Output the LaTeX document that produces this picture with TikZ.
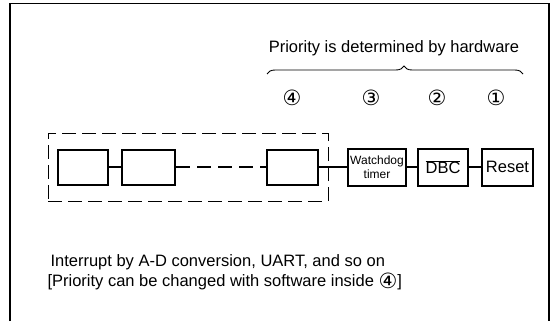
\documentclass[tikz,border=0pt]{standalone}
\usepackage{fontspec}
\setmainfont{Liberation Sans}
\newfontfamily\circfont{DejaVu Sans}
\usepackage{tikz}
\usetikzlibrary{positioning,fit,decorations.pathreplacing}

\newcommand{\prionum}[1]{{\circfont\fontsize{21}{21}\selectfont #1}}

\begin{document}
\begin{tikzpicture}[x=1pt, y=-1pt, node distance=11.5pt,
    unit/.style={rectangle, draw, line width=2pt, inner sep=0pt, minimum height=35pt},
    hwunit/.style={unit, minimum height=37pt},
    link/.style={line width=1.1pt},
    dashlink/.style={line width=1.1pt, dash pattern=on 14pt off 7pt},
    bigtext/.style={font=\fontsize{16.5}{20.5}\selectfont}]
    \useasboundingbox (0,0) rectangle (559,321);
    \draw [line width=1.4pt] (10,321) -- (10,3.5) -- (549,3.5) -- (549,321);

    % chain of interrupt sources
    \node [unit, minimum width=50pt] (src1) at (83,167) {};
    \node [unit, minimum width=53pt, right=12pt of src1] (src2) {};
    \node [unit, minimum width=51pt, right=90pt of src2] (srcn) {};
    \node [hwunit, minimum width=58pt, right=28pt of srcn, align=center,
           font=\fontsize{12}{13.5}\selectfont] (wdt) {Watchdog\\timer};
    \node [hwunit, minimum width=50pt, right=10pt of wdt, bigtext] (dbc) {$\overline{\mbox{DBC}}$};
    \node [hwunit, minimum width=51pt, right=12pt of dbc, bigtext] (reset) {Reset};

    \node [draw, line width=1pt, dash pattern=on 14pt off 6pt, fit=(src1)(srcn),
           inner xsep=9pt, inner ysep=15.5pt] (group) {};

    \draw [link] (src1) -- (src2);
    \draw [dashlink] (src2) -- (srcn);
    \draw [link] (srcn) -- (wdt);
    \draw [link] (wdt) -- (dbc);
    \draw [link] (dbc) -- (reset);

    % priority numbers
    \node (p4) at (292,98) {\prionum{④}};
    \node (p3) at (371,98) {\prionum{③}};
    \node (p2) at (437,98) {\prionum{②}};
    \node (p1) at (496,98) {\prionum{①}};

    % brace and heading
    \coordinate (braceL) at (267,74);
    \coordinate (braceR) at (523,74);
    \draw [line width=0.9pt, decorate, decoration={brace, amplitude=8pt, aspect=0.535}] (braceL) -- (braceR);
    \node [bigtext] (hwtitle) at (394,48) {Priority is determined by hardware};

    \node [bigtext, anchor=north west, align=left] (note) at (44,251)
        {\hspace{3pt}Interrupt by A-D conversion, UART, and so on\\
         {[}Priority can be changed with software inside \raisebox{-1.5pt}{\prionum{④}}]};
\end{tikzpicture}
\end{document}
